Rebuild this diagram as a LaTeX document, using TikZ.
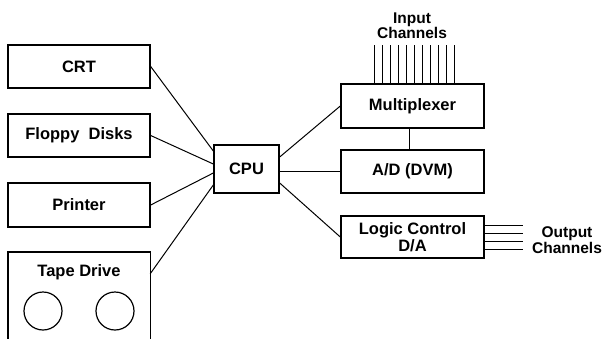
\documentclass[tikz,border=0pt]{standalone}
\usepackage{fontspec}
\setmainfont{Liberation Sans}
\begin{document}
\begin{tikzpicture}[x=1pt,y=-1pt,
  box/.style={draw,line width=1.4pt,minimum width=142pt,inner sep=0pt,font=\fontsize{16.5}{12}\bfseries\selectfont,align=center},
  conn/.style={line width=1pt},
  thin/.style={line width=0.7pt},
  lbl/.style={font=\fontsize{15.5}{15.5}\bfseries\selectfont,align=center,inner sep=0pt},
  reel/.style={draw,circle,line width=1.2pt,minimum size=38pt,inner sep=0pt}]
\path[use as bounding box] (0,0) rectangle (602,338);
% left column
\node[box,minimum height=43pt] (crt) at (79,66.5) {CRT};
\node[box,minimum height=43pt] (floppy) at (79,135.5) {Floppy\ \ Disks};
\node[box,minimum height=44pt] (printer) at (79,205) {Printer};
\node[minimum width=142pt,minimum height=90pt,inner sep=0pt] (tape) at (79,297) {};
\draw[line width=1.4pt] (tape.south west) -- (tape.north west) -- (tape.north east) -- (tape.south east);
\node[font=\fontsize{16.5}{16}\bfseries\selectfont,inner sep=0pt] (tapelbl) at (79,272) {Tape Drive};
\node[reel] (reel1) at (43,311) {};
\node[reel] (reel2) at (115,311) {};
% CPU
\node[box,minimum width=65pt,minimum height=48pt] (cpu) at (246.5,169) {CPU};
% right column
\node[box,minimum width=143pt,minimum height=44pt] (mux) at (412.5,106) {Multiplexer};
\node[box,minimum width=143pt,minimum height=43pt] (ad) at (412.5,171.5) {A/D (DVM)};
\node[box,minimum width=143pt,minimum height=42pt] (logic) at (412.5,237) {Logic Control\\D/A};
% connectors left
\draw[conn] (crt.east) -- ([yshift=18pt]cpu.west);
\draw[conn] (floppy.east) -- ([yshift=5pt]cpu.west);
\draw[conn] (printer.east) -- ([yshift=-4pt]cpu.west);
\draw[conn] ([yshift=-22pt]tape.north east) -- ([yshift=-16pt]cpu.west);
% connectors right
\draw[conn] ([yshift=12pt]cpu.east) -- (mux.west);
\draw[conn] (cpu.east |- ad.west) -- (ad.west);
\draw[conn] ([yshift=-14pt]cpu.east) -- (logic.west);
\draw[conn] ([xshift=-3.5pt]mux.south) -- ([xshift=-3.5pt]ad.north);
% input channels
\foreach \i in {0,...,10} {
  \coordinate (in\i) at (374+8*\i,45);
  \draw[thin] (in\i) -- (in\i |- mux.north);
}
\node[lbl] (inlbl) at (412,25.5) {Input\\Channels};
% output channels
\foreach \i/\y in {0/225,1/233,2/241,3/249} {
  \coordinate (out\i) at (523,\y);
  \draw[thin] (logic.east |- out\i) -- (out\i);
}
\node[lbl] (outlbl) at (567,240) {Output\\Channels};
\end{tikzpicture}
\end{document}
